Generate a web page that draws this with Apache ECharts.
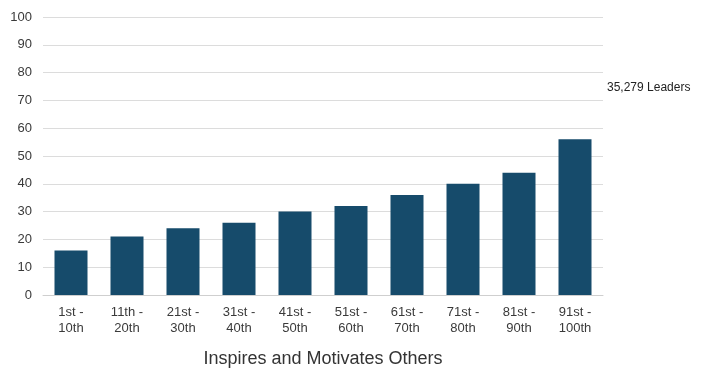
<!DOCTYPE html>
<html>
<head>
<meta charset="utf-8">
<script src="https://cdn.jsdelivr.net/npm/echarts@6/dist/echarts.min.js"></script>
<style>
  html, body { margin: 0; padding: 0; background: #fff; }
  #chart { width: 701px; height: 372px; }
</style>
</head>
<body>
<div id="chart"></div>
<script>
// 数据
const categories = ['1st -\n10th', '11th -\n20th', '21st -\n30th', '31st -\n40th', '41st -\n50th',
  '51st -\n60th', '61st -\n70th', '71st -\n80th', '81st -\n90th', '91st -\n100th'];
const values = [16, 21, 24, 26, 30, 32, 36, 40, 44, 56];
const seriesName = '35,279 Leaders';
const axisTitle = 'Inspires and Motivates Others';

const chart = echarts.init(document.getElementById('chart'));
const font = 'Liberation Sans, Arial, sans-serif';

chart.setOption({
  animation: false,
  textStyle: { fontFamily: font },
  title: [
    {
      text: axisTitle,
      left: 318, top: 345, textAlign: 'center',
      textStyle: { fontSize: 18, fontWeight: 'normal', color: '#333', fontFamily: font }
    },
    {
      text: seriesName,
      left: 602, top: 77,
      textStyle: { fontSize: 12, fontWeight: 'normal', color: '#222', fontFamily: font }
    }
  ],
  grid: { left: 43, right: 98, top: 17, bottom: 77 },
  xAxis: {
    type: 'category',
    data: categories,
    axisLine: { lineStyle: { color: '#cfcfcf', width: 1 } },
    axisTick: { show: false },
    axisLabel: { color: '#3a3a3a', fontSize: 13, lineHeight: 16, margin: 9, fontFamily: font }
  },
  yAxis: {
    type: 'value',
    min: 0, max: 100, interval: 10,
    axisLine: { show: false },
    axisTick: { show: false },
    splitLine: { lineStyle: { color: '#dcdcdc', width: 1 } },
    axisLabel: { color: '#3a3a3a', fontSize: 13, margin: 11, fontFamily: font }
  },
  series: [{
    type: 'bar',
    name: seriesName,
    data: values,
    barWidth: 33,
    itemStyle: { color: '#164b6b' }
  }]
});
</script>
</body>
</html>
